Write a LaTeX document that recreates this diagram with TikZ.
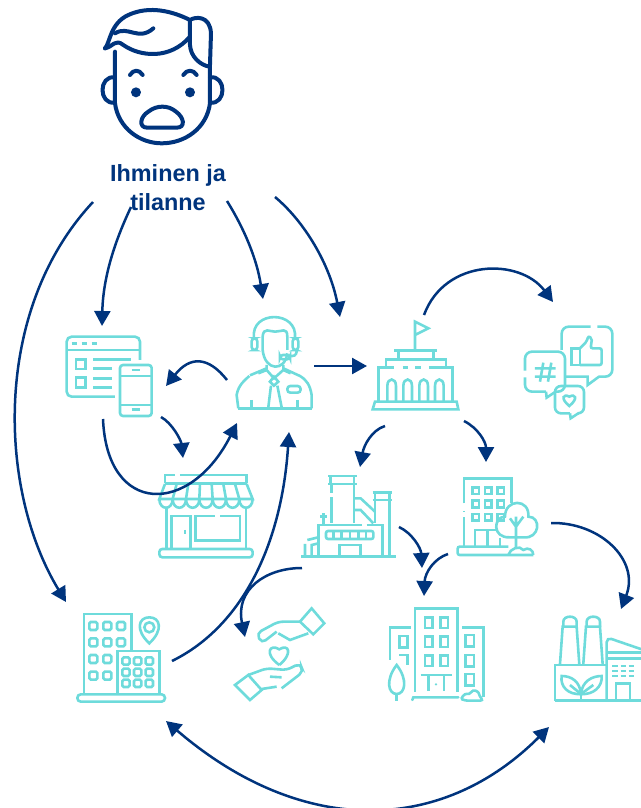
\documentclass[tikz,border=0pt]{standalone}
\usepackage{fontspec}
\setmainfont{Liberation Sans}
\usetikzlibrary{arrows.meta,positioning}
\definecolor{navy}{RGB}{0,52,125}
\definecolor{teal}{RGB}{110,219,219}
\tikzset{
  flow/.style={draw=navy,line width=2.5pt},
  line/.style={draw=teal,line width=2.6pt},
  faceline/.style={draw=navy,line width=4pt,line cap=round,line join=round},
  crop/.style 2 args={shift={(#1,#2)},x=0.3333pt,y=-0.3333pt},
}
\begin{document}
\begin{tikzpicture}[x=1pt,y=-1pt,>={Triangle[length=15pt,width=16pt]}]
\useasboundingbox (0,0) rectangle (640,808);

% person
\begin{scope}[crop={60}{0},faceline]
\draw (135,145) .. controls (150,130) and (150,70) .. (205,45) .. controls (270,15) and (340,35) .. (390,60)
  .. controls (405,50) and (450,45) .. (453,100) -- (450,195);
\draw (135,145) .. controls (160,140) and (165,115) .. (190,135) .. controls (240,170) and (330,180) .. (390,110);
\draw (165,100) .. controls (205,75) and (235,125) .. (280,85);
\draw (390,60) -- (390,135) .. controls (392,170) and (420,195) .. (448,200);
\draw (165,155) -- (165,310) .. controls (175,385) and (240,430) .. (305,430) .. controls (375,430) and (440,385) .. (450,310) -- (450,195);
\draw (165,232) .. controls (115,225) and (115,315) .. (165,308);
\draw (450,232) .. controls (500,225) and (500,315) .. (450,308);
\fill[navy] (228,277) circle (5pt) (390,277) circle (5pt);
\draw (210,225) .. controls (220,208) and (238,208) .. (248,225);
\draw (370,225) .. controls (380,208) and (400,208) .. (410,225);
\draw (262,383) .. controls (235,383) and (240,350) .. (265,335) .. controls (290,315) and (325,315) .. (348,335)
  .. controls (372,352) and (378,383) .. (350,383) -- cycle;
\end{scope}
\node (person) at (168,188) [text=navy,align=center,font=\fontsize{23.4}{29}\selectfont\bfseries] {Ihminen ja\\tilanne};

% web and phone
\begin{scope}[crop={50}{300},line]
\draw[rounded corners=5pt] (195,290) -- (50,290) -- (50,110) -- (270,110) -- (270,180);
\draw (50,150) -- (270,150);
\foreach \x in {65,95,125} \draw (\x,130) -- ++(16,0);
\draw (78,178) rectangle (107,207) (78,232) rectangle (107,262);
\draw (130,178) -- (243,178) (130,205) -- (187,205) (130,235) -- (187,235) (130,262) -- (187,262);
\draw[rounded corners=3pt] (210,195) rectangle (305,348);
\draw (210,228) -- (305,228) (210,315) -- (305,315) (245,210) -- (270,210) (245,328) -- (270,328);
\end{scope}

% agent
\begin{scope}[crop={50}{300},line]
\draw (612,115) .. controls (600,30) and (745,30) .. (735,115);
\draw (638,150) -- (638,110) .. controls (640,80) and (660,95) .. (675,95) .. controls (695,95) and (712,80) .. (712,110) -- (712,150);
\draw (638,150) .. controls (645,215) and (705,215) .. (712,160);
\draw[rounded corners=3pt] (605,115) rectangle (622,150) (728,115) rectangle (745,150);
\draw (740,150) .. controls (740,170) and (730,168) .. (718,168);
\draw[rounded corners=3pt] (690,165) rectangle (720,178);
\draw (565,325) -- (785,325);
\draw (565,325) -- (560,285) .. controls (565,255) and (585,240) .. (598,228);
\draw (785,325) -- (785,285) .. controls (780,255) and (770,240) .. (750,228) -- (700,205) -- (700,195);
\draw (600,226) -- (650,205) -- (650,195);
\draw (625,220) -- (650,210) -- (672,235) -- (700,210) -- (722,220);
\draw (672,230) -- (660,245) -- (672,257) -- (685,245) -- cycle;
\draw (663,257) -- (655,322) (682,257) -- (695,322);
\draw[rounded corners=3pt] (712,258) rectangle (752,278);
\draw (605,300) -- (605,325) (742,300) -- (742,325);
\end{scope}

% shop
\begin{scope}[crop={50}{300},line]
\draw (345,550) -- (345,525) -- (375,525) (390,525) -- (590,525) -- (590,550);
\draw (345,550) -- (590,550);
\draw (345,552) -- (328,597) -- (608,597) -- (590,552);
\foreach \xa/\xb in {380/368,415/408,450/448,485/488,520/528,555/568} \draw (\xa,552) -- (\xb,597);
\foreach \x in {328,368,408,448,488,528,568}
  \draw (\x,597) .. controls (\x,632) and (\x+40,632) .. (\x+40,597);
\draw (350,622) -- (350,745) (588,622) -- (588,745);
\draw (365,745) -- (365,648) -- (422,648) -- (422,745);
\draw (405,690) -- (405,702);
\draw (495,648) -- (437,648) -- (437,722) -- (570,722) -- (570,648) -- (510,648);
\draw[rounded corners=3pt] (328,747) rectangle (608,772);
\end{scope}

% main building
\begin{scope}[crop={360}{300},line]
\draw (165,150) -- (165,65) -- (205,85) -- (165,105);
\draw (102,152) -- (232,152) (115,152) -- (115,178) (220,152) -- (220,178);
\draw (78,202) -- (78,178) -- (258,178) -- (258,202);
\draw (55,303) -- (55,202) -- (102,202) (128,202) -- (145,202) (165,202) -- (182,202) (207,202) -- (278,202) -- (278,303);
\foreach \x in {82,130,178,225}
  \draw (\x,303) -- (\x,258) .. controls (\x,232) and (\x+26,232) .. (\x+26,258) -- (\x+26,303);
\draw (45,305) -- (290,305) -- (295,328) -- (38,328) -- cycle;
\end{scope}

% social bubbles
\begin{scope}[crop={360}{300},line]
\draw[rounded corners=7pt] (605,150) -- (605,80) -- (692,80) (712,80) -- (757,80) -- (757,230) -- (715,230);
\draw (618,230) -- (683,230) -- (683,255) -- (717,230);
\draw (635,145) rectangle (660,195);
\draw[rounded corners=2pt] (660,145) -- (680,125) -- (685,108) -- (696,115) -- (692,145) -- (725,145) -- (725,195) -- (660,195);
\draw[rounded corners=7pt] (495,212) -- (495,155) -- (615,155) -- (615,275) -- (587,275);
\draw[rounded corners=7pt] (558,275) -- (495,275) -- (495,232);
\draw (587,275) -- (560,293) -- (558,275);
\draw (525,205) -- (587,205) (525,230) -- (587,230) (550,188) -- (540,245) (574,188) -- (564,245);
\draw[rounded corners=6pt] (630,340) -- (585,340) -- (585,258) -- (672,258) -- (672,340) -- (655,340);
\draw (630,340) -- (632,355) -- (655,340);
\draw (628,318) .. controls (600,295) and (610,280) .. (628,290) .. controls (646,280) and (656,295) .. (628,318) -- cycle;
\end{scope}

% factory with chimneys
\begin{scope}[crop={290}{460},line]
\draw (115,48) -- (200,48) (115,72) -- (200,72) (122,48) -- (122,72) (192,48) -- (192,190);
\draw (125,72) -- (125,98) (125,112) -- (125,190);
\draw (248,98) -- (305,98) (248,120) -- (305,120) (255,98) -- (255,190) (298,98) -- (298,288);
\draw (195,115) -- (212,115) -- (255,155) (195,150) -- (212,150) -- (250,190);
\draw (85,288) -- (85,195) -- (215,195) (230,195) -- (278,195) -- (278,288);
\draw[rounded corners=2pt] (108,213) rectangle (250,237);
\foreach \x in {130,155,180,205,228} \draw (\x,213) -- (\x,237);
\draw (148,288) -- (148,255) -- (212,255) -- (212,288);
\draw (100,160) -- (100,195) (90,170) -- (110,170);
\draw (45,288) -- (45,252) (65,288) -- (65,255) -- (85,250) (52,240) -- (85,232);
\draw (33,290) -- (318,290);
\end{scope}

% office with tree
\begin{scope}[crop={360}{300},line]
\draw (312,610) -- (312,535) -- (455,535) -- (455,610);
\draw (312,633) -- (312,637) (312,652) -- (312,740);
\foreach \x in {347,385,422} \foreach \y in {572,612,652} \draw (\x-10,\y-10) rectangle (\x+10,\y+10);
\draw (345,740) -- (345,690) -- (412,690) (382,690) -- (382,740) (420,715) -- (420,740);
\draw[rounded corners=2pt] (520,765) -- (293,765) -- (293,740) -- (445,740);
\draw (450,712) .. controls (395,715) and (400,650) .. (435,650) .. controls (435,595) and (510,595) .. (505,650)
  .. controls (545,650) and (540,718) .. (490,712) -- cycle;
\draw (468,650) -- (468,742) (468,680) -- (450,655) (468,680) -- (490,650);
\draw (445,765) .. controls (450,745) and (480,735) .. (490,750) .. controls (505,740) and (520,750) .. (520,765);
\end{scope}

% offices with location pin
\begin{scope}[crop={60}{590},line]
\draw (72,310) -- (72,72) -- (215,72) -- (215,180);
\foreach \x in {100,142,183} \foreach \y in {108,157} \draw[rounded corners=1.5pt] (\x-12,\y-12) rectangle (\x+12,\y+12);
\foreach \x in {100,142} \foreach \y in {207,257} \draw[rounded corners=1.5pt] (\x-12,\y-12) rectangle (\x+12,\y+12);
\draw (172,310) -- (172,183) -- (298,183) -- (298,310);
\foreach \x in {198,233,268} \foreach \y in {213,247,280} \draw[rounded corners=1.5pt] (\x-11,\y-11) rectangle (\x+11,\y+11);
\draw[rounded corners=3.5pt] (52,313) rectangle (315,335);
\draw (268,160) .. controls (225,120) and (235,82) .. (268,82) .. controls (301,82) and (311,120) .. (268,160) -- cycle;
\draw (268,112) circle (5pt);
\end{scope}

% hands and heart
\begin{scope}[crop={60}{590},line]
\draw (720,95) -- (755,55) -- (793,100) -- (760,133) -- cycle;
\draw[rounded corners=5pt] (720,95) -- (655,95) -- (590,130) -- (605,160) -- (650,125);
\draw (655,130) -- (690,150) -- (745,130);
\draw (658,225) .. controls (610,190) and (630,160) .. (658,178) .. controls (686,160) and (700,190) .. (658,225);
\draw (525,285) -- (565,255) -- (605,300) -- (570,330) -- cycle;
\draw[rounded corners=5pt] (565,255) -- (620,235) -- (680,240) -- (720,220) -- (730,245) -- (665,295);
\draw (605,297) -- (650,290) (630,260) -- (665,262);
\end{scope}

% tower
\begin{scope}[crop={380}{590},line]
\draw (105,305) -- (105,55) -- (233,55) -- (233,305);
\foreach \x in {146,193} \foreach \y in {98,155,212} \draw (\x-11,\y-16) rectangle (\x+11,\y+16);
\draw (122,255) -- (215,255) (145,255) -- (145,303) (192,255) -- (192,303);
\fill[teal] (168,283) circle (1.3pt);
\draw[line cap=round] (97,330) -- (100,322) -- (235,322);
\draw (92,112) -- (30,112) -- (30,210);
\draw (58,138) rectangle (82,172);
\draw (58,195) -- (82,195) -- (82,225);
\draw (50,225) .. controls (15,270) and (25,312) .. (50,312) .. controls (75,312) and (85,270) .. (50,225) -- cycle;
\draw (50,312) -- (50,333);
\draw (247,112) -- (310,112) -- (310,320);
\foreach \y in {135,195,252} \draw (257,\y) rectangle (282,\y+35);
\draw[rounded corners=3pt] (255,332) .. controls (240,325) and (255,310) .. (268,315) .. controls (280,295) and (295,305) .. (298,318) -- (310,332) -- cycle;
\end{scope}

% green factory
\begin{scope}[crop={380}{590},line]
\draw (525,332) -- (525,225) -- (680,225);
\foreach \x in {0,70} {
  \draw (\x+540,222) -- (\x+548,110) -- (\x+590,110) -- (\x+598,222);
  \draw (\x+550,110) -- (\x+550,95) .. controls (\x+550,75) and (\x+590,75) .. (\x+590,95) -- (\x+590,110);
}
\draw (603,332) -- (603,312);
\draw (603,312) .. controls (600,275) and (575,258) .. (545,258) .. controls (540,290) and (565,315) .. (603,312) -- cycle;
\draw (603,312) .. controls (606,275) and (635,258) .. (665,258) .. controls (668,290) and (640,315) .. (603,312) -- cycle;
\draw (570,285) -- (603,312) -- (640,285);
\draw[rounded corners=5pt] (680,332) -- (680,142) -- (785,178);
\draw (680,188) -- (785,188) (680,205) -- (785,205);
\foreach \y in {228,243,258} \foreach \x in {697,722,746} \draw (\x,\y) -- ++(17,0);
\draw (708,332) -- (708,280) -- (750,280) -- (750,332);
\draw (525,332) -- (785,332);
\end{scope}

% connector ends
\coordinate (personA) at (93,202);
\coordinate (personB) at (131,207);
\coordinate (personC) at (227,201);
\coordinate (personD) at (275,197);
\coordinate (webin) at (102,326);
\coordinate (webin2) at (166,386);
\coordinate (webout) at (103,419);
\coordinate (webout2) at (161,417);
\coordinate (shopin) at (183,458);
\coordinate (agentin) at (263,299);
\coordinate (agentin2) at (237,423);
\coordinate (agentin3) at (289,432);
\coordinate (agentout) at (227,380);
\coordinate (agentout2) at (314,366);
\coordinate (mainin) at (340,317);
\coordinate (mainin2) at (367,366);
\coordinate (mainout) at (424,315);
\coordinate (mainout2) at (385,426);
\coordinate (mainout3) at (464,421);
\coordinate (socialin) at (553,302);
\coordinate (factin) at (360,467);
\coordinate (factout) at (399,527);
\coordinate (factout2) at (302,568);
\coordinate (officein) at (486,462);
\coordinate (officeout) at (448,554);
\coordinate (officeout2) at (551,523);
\coordinate (towerin) at (422,568);
\coordinate (towerin2) at (424,596);
\coordinate (handsin) at (245,637);
\coordinate (greenin) at (621,609);
\coordinate (pinin) at (66,602);
\coordinate (pinout) at (172,661);
\coordinate (pinend) at (166,721);
\coordinate (greenend) at (549,727);

\draw[flow,->] (personA) .. controls (-8,310) and (-2,490) .. (pinin);
\draw[flow,->] (personB) .. controls (113,245) and (103,280) .. (webin);
\draw[flow,->] (personC) .. controls (245,230) and (257,260) .. (agentin);
\draw[flow,->] (personD) .. controls (305,222) and (330,265) .. (mainin);
\draw[flow,->] (agentout2) -- (mainin2);
\draw[flow,->] (agentout) .. controls (208,356) and (190,356) .. (webin2);
\draw[flow,->] (webout2) .. controls (172,423) and (181,440) .. (shopin);
\draw[flow,->] (webout) .. controls (107,516) and (190,516) .. (agentin2);
\draw[flow,->] (mainout) .. controls (445,258) and (520,258) .. (socialin);
\draw[flow,->] (mainout2) .. controls (372,430) and (364,445) .. (factin);
\draw[flow,->] (mainout3) .. controls (478,428) and (486,442) .. (officein);
\draw[flow,->] (pinout) .. controls (245,625) and (282,540) .. (agentin3);
\draw[flow,->] (factout2) .. controls (265,568) and (235,590) .. (handsin);
\draw[flow,->] (factout) .. controls (412,533) and (421,548) .. (towerin);
\draw[flow,->] (officeout) .. controls (435,558) and (425,572) .. (towerin2);
\draw[flow,->] (officeout2) .. controls (600,522) and (640,560) .. (greenin);
\draw[flow,<->] (pinend) .. controls (300,836) and (440,836) .. (greenend);
\end{tikzpicture}
\end{document}
